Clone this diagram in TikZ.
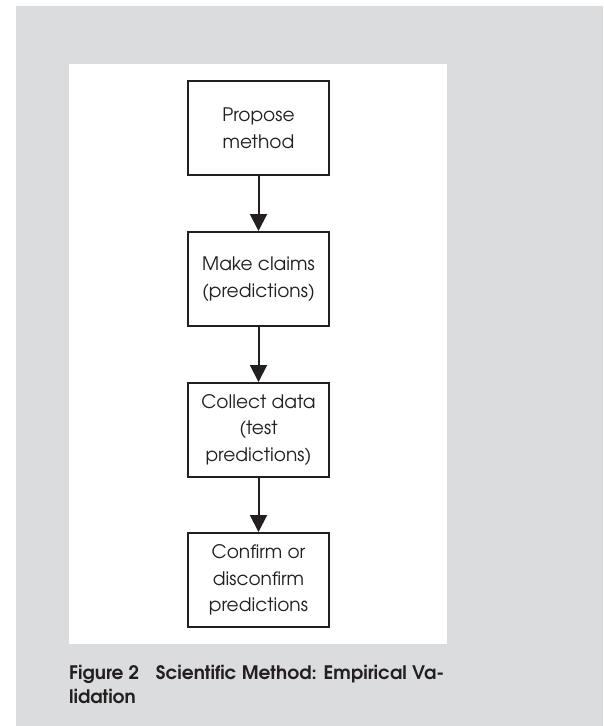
\documentclass[tikz,border=0pt]{standalone}
\usepackage{fontspec}
\setmainfont{texgyreadventor}[Extension=.otf, UprightFont=*-regular, BoldFont=*-bold]
\usetikzlibrary{arrows.meta}
\definecolor{bg}{RGB}{219,220,222}
\definecolor{ink}{RGB}{35,31,32}
\begin{document}
\begin{tikzpicture}[x=1pt,y=-1pt,
  stepbox/.style={draw=ink, line width=2pt, minimum width=141pt, minimum height=94pt,
    align=center, inner sep=0pt, font=\fontsize{18.6}{26.5}\selectfont, text=ink},
  flow/.style={draw=ink, line width=2pt, -{Triangle[width=17pt,length=17pt]}},
  captext/.style={anchor=base west, align=left, inner sep=0pt, text=ink,
    font=\fontsize{18.6}{24}\selectfont\bfseries}]
\useasboundingbox (0,0) rectangle (603,726);
\fill[white] (0,0) rectangle (603,726);
\fill[bg] (16,6) rectangle (603,726);
\fill[white] (69,64) rectangle (447,644);
\node[stepbox] (a) at (258.5,128) {Propose\\method};
\node[stepbox] (b) at (258.5,279) {Make claims\\(predictions)};
\node[stepbox] (c) at (258.5,430) {Collect data\\(test\\predictions)};
\node[stepbox] (d) at (258.5,580) {Confirm or\\disconfirm\\predictions};
\draw[flow] (a) -- (b);
\draw[flow] (b) -- (c);
\draw[flow] (c) -- (d);
\node[captext] (cap) at (69,703) {Figure 2\hspace{0.9em}Scientific Method: Empirical Va-\\lidation};
\end{tikzpicture}
\end{document}
